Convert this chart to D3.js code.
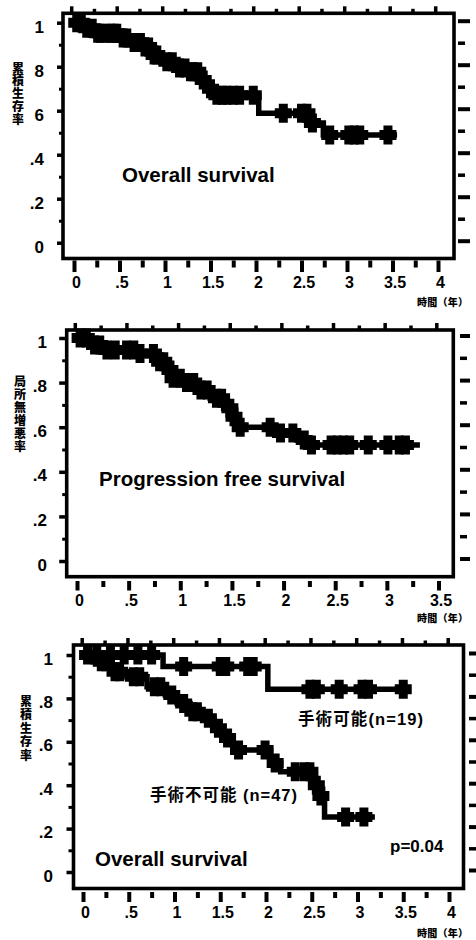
<!DOCTYPE html>
<html><head><meta charset="utf-8">
<script src="https://cdn.jsdelivr.net/npm/d3@7"></script>
<style>
body{margin:0;background:#fff}
svg text{fill:#000}
</style>
</head><body>
<svg id="c" width="476" height="940"></svg>
<script>
// ---------------- DATA ----------------
// Panel 1: Overall survival (all patients)
const p1StepTimes = [0, 0.14, 0.21, 0.49, 0.63, 0.74, 0.85, 0.96, 1.13, 1.26, 1.40, 1.46, 1.53, 2.03, 2.59, 2.74];
const p1StepSurv  = [1, 0.975, 0.952, 0.93, 0.91, 0.89, 0.853, 0.823, 0.794, 0.777, 0.74, 0.70, 0.67, 0.588, 0.544, 0.49];
const p1EndTime = 3.55;
const p1Censored = [0.03, 0.08, 0.14, 0.2, 0.26, 0.29, 0.35, 0.40, 0.44, 0.47, 0.54, 0.58, 0.66, 0.70, 0.73, 0.78, 0.82, 0.88, 0.91, 1.02, 1.08, 1.16, 1.22, 1.28, 1.31, 1.36, 1.42, 1.50, 1.57, 1.63, 1.68, 1.75, 1.82, 1.97, 2.30, 2.50, 2.56, 2.62, 2.81, 3.02, 3.08, 3.14, 3.45];

// Panel 2: Progression free survival
const p2StepTimes = [0, 0.14, 0.255, 0.58, 0.77, 0.85, 0.93, 1.06, 1.17, 1.29, 1.42, 1.50, 1.55, 1.97, 2.13, 2.26];
const p2StepSurv  = [1, 0.969, 0.946, 0.93, 0.894, 0.857, 0.82, 0.80, 0.767, 0.73, 0.685, 0.647, 0.60, 0.574, 0.543, 0.52];
const p2EndTime = 3.32;
const p2Censored = [0.03, 0.09, 0.17, 0.22, 0.29, 0.37, 0.48, 0.55, 0.61, 0.74, 0.80, 0.84, 0.90, 0.93, 1.00, 1.06, 1.13, 1.20, 1.26, 1.35, 1.40, 1.48, 1.52, 1.58, 1.87, 1.97, 2.09, 2.20, 2.27, 2.46, 2.52, 2.58, 2.64, 2.82, 3.01, 3.12, 3.18];

// Panel 3: operable (n=19) vs inoperable (n=47)
const p3OpTimes = [0, 0.875, 2.02];
const p3OpSurv  = [1, 0.947, 0.842];
const p3OpEnd = 3.56;
const p3OpCensored = [0.15, 0.3, 0.45, 0.6, 0.75, 1.1, 1.5, 1.56, 1.8, 1.86, 2.48, 2.55, 2.8, 3.05, 3.12, 3.5];

const p3InTimes = [0, 0.11, 0.30, 0.48, 0.70, 0.90, 1.03, 1.17, 1.30, 1.43, 1.52, 1.64, 2.05, 2.16, 2.52, 2.58, 2.64];
const p3InSurv  = [1, 0.969, 0.923, 0.90, 0.854, 0.816, 0.777, 0.739, 0.708, 0.662, 0.617, 0.562, 0.502, 0.462, 0.40, 0.35, 0.253];
const p3InEnd = 3.19;
const p3InCensored = [0.05, 0.2, 0.25, 0.35, 0.4, 0.55, 0.62, 0.78, 0.85, 0.97, 1.1, 1.2, 1.25, 1.37, 1.48, 1.58, 1.7, 1.99, 2.1, 2.32, 2.42, 2.48, 2.55, 2.6, 2.87, 3.07];

// Tick labels
const yTickValues = [0, 0.2, 0.4, 0.6, 0.8, 1];
const p1YLabels = ["0", ".2", ".4", "6", "8", "1"];
const p2YLabels = ["0", ".2", ".4", ".6", ".8", "1"];
const p3YLabels = ["0", ".2", ".4", ".6", ".8", "1"];
const p1XLabels = ["0", ".5", "1", "1.5", "2", "2.5", "3", "3.5", "4"];
const p2XLabels = ["0", ".5", "1", "1.5", "2", "2.5", "3", "3.5"];
const p3XLabels = ["0", ".5", "1", "1.5", "2", "2.5", "3", "3.5", "4"];

// Texts
const p1YTitle = "累積生存率";
const p2YTitle = "局所無増悪率";
const p3YTitle = "累積生存率";
const xUnitLabel = "時間（年）";
const p1Label = "Overall survival";
const p2Label = "Progression free survival";
const p3Label = "Overall survival";
const p3PValue = "p=0.04";
const p3OpLabel = "手術可能(n=19)";
const p3InLabel = "手術不可能 (n=47)";

// ---------------- DRAWING ----------------
const svg = d3.select('#c');
const CJK = "'Noto Sans CJK JP', sans-serif";
const LAT = "'Liberation Sans', Arial, sans-serif";
const MIX = "'Liberation Sans', 'Noto Sans CJK JP', sans-serif";

function stepAt(times, surv, t){
  let s = surv[0];
  for (let i = 0; i < times.length; i++) if (times[i] <= t) s = surv[i];
  return s;
}
function crossPath(cx, cy){
  const vw=4.5, vh=9.5, hw=8.5, hh=5;
  return `M${cx-vw},${cy-vh}h${2*vw}v${vh-hh}h${hw-vw}v${2*hh}h${-(hw-vw)}v${vh-hh}h${-2*vw}v${-(vh-hh)}h${-(hw-vw)}v${-2*hh}h${hw-vw}z`;
}

function drawPanel(c){
  const g = svg.append('g');
  const x = d3.scaleLinear().domain([0, c.xmax]).range(c.xr);
  const y = d3.scaleLinear().domain([0, 1]).range(c.yr);

  // frame
  g.append('rect').attr('x', c.f.l).attr('y', c.f.t)
    .attr('width', c.f.r - c.f.l).attr('height', c.f.b - c.f.t)
    .attr('fill', 'none').attr('stroke', '#000').attr('stroke-width', 3.6);

  const majX = d3.range(0, c.xmax + 1e-9, 0.5);
  const minX = d3.range(0.25, c.xmax, 0.5);

  // bottom axis major (with labels)
  const bMaj = g.append('g').attr('transform', `translate(0,${c.bAxisY})`)
    .call(d3.axisBottom(x).tickValues(majX).tickSizeOuter(0).tickSizeInner(c.bMaj)
      .tickFormat((d, i) => c.xLabels[i]));
  bMaj.select('.domain').remove();
  bMaj.selectAll('.tick line').attr('stroke', '#000').attr('stroke-width', 4);
  bMaj.selectAll('.tick text').attr('y', c.xLabelBase - c.bAxisY).attr('dy', 0).attr('dx', 2)
    .attr('font-family', LAT).attr('font-size', 16).attr('font-weight', 'bold');
  const bMin = g.append('g').attr('transform', `translate(0,${c.bAxisY})`)
    .call(d3.axisBottom(x).tickValues(minX).tickSizeOuter(0).tickSizeInner(c.bMin).tickFormat(''));
  bMin.select('.domain').remove();
  bMin.selectAll('.tick line').attr('stroke', '#000').attr('stroke-width', 4);

  // top axis
  const xt = x.copy().range([c.xr[0] + c.topOff, c.xr[1] + c.topOff]);
  const tMaj = g.append('g').attr('transform', `translate(0,${c.f.t - 1})`)
    .call(d3.axisTop(xt).tickValues(majX).tickSizeOuter(0).tickSizeInner(c.topMaj).tickFormat(''));
  tMaj.select('.domain').remove();
  tMaj.selectAll('.tick line').attr('stroke', '#000').attr('stroke-width', 3.5);
  const tMin = g.append('g').attr('transform', `translate(0,${c.f.t - 1})`)
    .call(d3.axisTop(xt).tickValues(minX).tickSizeOuter(0).tickSizeInner(c.topMin).tickFormat(''));
  tMin.select('.domain').remove();
  tMin.selectAll('.tick line').attr('stroke', '#000').attr('stroke-width', 3.5);

  // left axis
  const lMaj = g.append('g').attr('transform', `translate(${c.f.l - 1},0)`)
    .call(d3.axisLeft(y).tickValues(yTickValues).tickSizeOuter(0).tickSizeInner(c.lMaj)
      .tickFormat((d, i) => c.yLabels[i]));
  lMaj.select('.domain').remove();
  lMaj.selectAll('.tick line').attr('stroke', '#000').attr('stroke-width', 3.5);
  lMaj.selectAll('.tick text').attr('x', c.yLabelX - (c.f.l - 1)).attr('dy', c.yLabelDy).attr('text-anchor', 'end')
    .attr('font-family', LAT).attr('font-size', 17).attr('font-weight', 'bold');
  const lMin = g.append('g').attr('transform', `translate(${c.f.l - 1},0)`)
    .call(d3.axisLeft(y).tickValues([0.1, 0.3, 0.5, 0.7, 0.9]).tickSizeOuter(0).tickSizeInner(c.lMin).tickFormat(''));
  lMin.select('.domain').remove();
  lMin.selectAll('.tick line').attr('stroke', '#000').attr('stroke-width', 3);

  // right detached ticks
  const yr = y.copy().range([c.yr[0] + c.rOff, c.yr[1] + c.rOff]);
  const rMaj = g.append('g').attr('transform', `translate(${c.rX},0)`)
    .call(d3.axisRight(yr).tickValues(yTickValues).tickSizeOuter(0).tickSizeInner(c.rLong).tickFormat(''));
  rMaj.select('.domain').remove();
  rMaj.selectAll('.tick line').attr('stroke', '#000').attr('stroke-width', 4);
  const rMin = g.append('g').attr('transform', `translate(${c.rX},0)`)
    .call(d3.axisRight(yr).tickValues([0.1, 0.3, 0.5, 0.7, 0.9]).tickSizeOuter(0).tickSizeInner(c.rShort).tickFormat(''));
  rMin.select('.domain').remove();
  rMin.selectAll('.tick line').attr('stroke', '#000').attr('stroke-width', 3.5);

  // curves
  const line = d3.line().x(d => x(d[0])).y(d => y(d[1])).curve(d3.curveStepAfter);
  c.curves.forEach(cv => {
    const pts = cv.times.map((t, i) => [t, cv.surv[i]]);
    pts.push([cv.end, cv.surv[cv.surv.length - 1]]);
    g.append('path').attr('d', line(pts)).attr('fill', 'none')
      .attr('stroke', '#000').attr('stroke-width', 5.5).attr('stroke-linecap', 'butt');
    g.append('g').selectAll('path').data(cv.cens).join('path')
      .attr('d', t => crossPath(x(t), y(stepAt(cv.times, cv.surv, t))))
      .attr('fill', '#000');
  });

  // y title (vertical)
  g.append('text').attr('x', c.yt.x).attr('y', c.yt.y)
    .style('writing-mode', 'vertical-rl').style('text-orientation', 'upright')
    .attr('font-family', CJK).attr('font-weight', 900).attr('font-size', 12)
    .attr('letter-spacing', c.yt.ls).text(c.yt.text);

  // x unit
  g.append('text').attr('x', 417).attr('y', c.unitY)
    .attr('font-family', CJK).attr('font-weight', 900).attr('font-size', 10)
    .attr('textLength', 51).attr('lengthAdjust', 'spacing')
    .text(xUnitLabel);
  return {g, x, y};
}

const P1 = drawPanel({
  xmax: 4, xr: [74, 438], yr: [242.7, 22.7],
  f: {l: 63, r: 454, t: 13.3, b: 258.5},
  bAxisY: 260.5, bMaj: 11.5, bMin: 7, xLabelBase: 288, xLabels: p1XLabels,
  topOff: -2.8, topMaj: 6, topMin: 3.5,
  lMaj: 5, lMin: 3, yLabelX: 44, yLabelDy: 10, yLabels: p1YLabels,
  rX: 458, rLong: 12, rShort: 7, rOff: -2,
  curves: [{times: p1StepTimes, surv: p1StepSurv, end: p1EndTime, cens: p1Censored}],
  yt: {x: 18, y: 62, ls: 0.8, text: p1YTitle}, unitY: 306
});
P1.g.append('text').attr('x', 122).attr('y', 182).attr('font-family', LAT)
  .attr('font-weight', 'bold').attr('font-size', 20.5).text(p1Label);

const P2 = drawPanel({
  xmax: 3.5, xr: [77, 438.5], yr: [561, 338],
  f: {l: 66.7, r: 453.3, t: 330, b: 576.7},
  bAxisY: 581, bMaj: 9.5, bMin: 6, xLabelBase: 606, xLabels: p2XLabels,
  topOff: -2.2, topMaj: 6, topMin: 3.5,
  lMaj: 6.5, lMin: 3.5, yLabelX: 47, yLabelDy: 9, yLabels: p2YLabels,
  rX: 460, rLong: 10, rShort: 7, rOff: -2.5,
  curves: [{times: p2StepTimes, surv: p2StepSurv, end: p2EndTime, cens: p2Censored}],
  yt: {x: 20, y: 375, ls: 1, text: p2YTitle}, unitY: 622
});
P2.g.append('text').attr('x', 99).attr('y', 486).attr('font-family', LAT)
  .attr('font-weight', 'bold').attr('font-size', 20.5).text(p2Label);

const P3 = drawPanel({
  xmax: 4, xr: [83, 449], yr: [872, 655],
  f: {l: 73.5, r: 463.5, t: 645, b: 888.5},
  bAxisY: 892, bMaj: 10, bMin: 6, xLabelBase: 918, xLabels: p3XLabels,
  topOff: -1.3, topMaj: 6, topMin: 3.5,
  lMaj: 6, lMin: 4, yLabelX: 53, yLabelDy: 9, yLabels: p3YLabels,
  rX: 469, rLong: 10, rShort: 7, rOff: -2,
  curves: [
    {times: p3OpTimes, surv: p3OpSurv, end: p3OpEnd, cens: p3OpCensored},
    {times: p3InTimes, surv: p3InSurv, end: p3InEnd, cens: p3InCensored}
  ],
  yt: {x: 26, y: 695, ls: 1.5, text: p3YTitle}, unitY: 937
});
P3.g.append('text').attr('x', 95).attr('y', 866).attr('font-family', LAT)
  .attr('font-weight', 'bold').attr('font-size', 20.5).text(p3Label);
P3.g.append('text').attr('x', 390).attr('y', 852).attr('font-family', LAT)
  .attr('font-weight', 'bold').attr('font-size', 17).text(p3PValue);
P3.g.append('text').attr('x', 298).attr('y', 725).attr('font-family', MIX)
  .attr('font-weight', 'bold').attr('font-size', 16.5)
  .attr('textLength', 125).attr('lengthAdjust', 'spacing').text(p3OpLabel);
P3.g.append('text').attr('x', 150).attr('y', 801).attr('font-family', MIX)
  .attr('font-weight', 'bold').attr('font-size', 16.5)
  .attr('textLength', 147).attr('lengthAdjust', 'spacing').text(p3InLabel);
</script>
</body></html>
